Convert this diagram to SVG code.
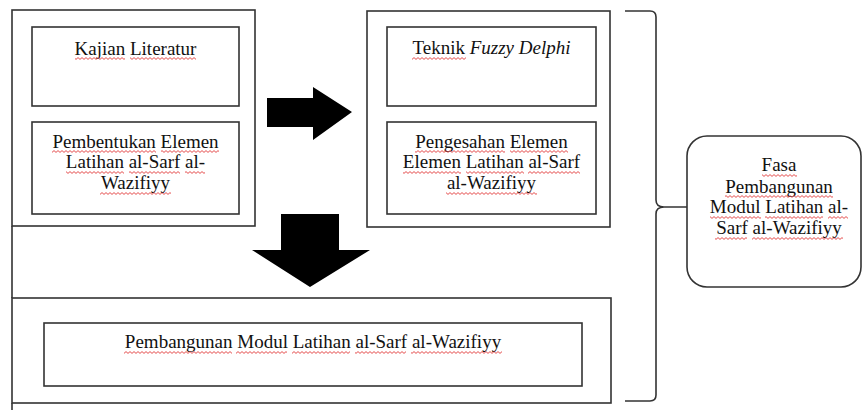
<svg xmlns="http://www.w3.org/2000/svg" width="863" height="410" viewBox="0 0 863 410">
<style>
.box{fill:none;stroke:#333;stroke-width:1.6}
.ln{fill:none;stroke:#333;stroke-width:1.6}
.arrow{fill:#000;stroke:none}
.t{font-size:19px;fill:#111;text-anchor:middle}
.it{font-style:italic}
.sq{fill:url(#wave);stroke:none}
</style>
<defs>
<pattern id="wave" patternUnits="userSpaceOnUse" x="0" y="0" width="4" height="3">
<polyline points="0,2.4 2,0.6 4,2.4" fill="none" stroke="#e23a3a" stroke-width="0.9"/>
</pattern>
</defs>
<rect width="863" height="410" fill="#fff"/>
<g id="connectors">
<polygon class="arrow" points="267,98 313,98 313,87 352,112 313,140 313,127 267,127"/>
<polygon class="arrow" points="281,214 339,214 339,250 370,250 310,287 252,250 281,250"/>
<path class="ln" d="M12,226 V298 M12,403 V410"/>
<path class="ln" d="M625,11 L650,11 Q656,11 656,17 V200 Q656,207 664,207 H687 M664,207 Q656,207 656,214 V395 Q656,401 650,401 L625,401"/>
</g>
<g font-family="Times New Roman, Liberation Serif, Tinos, Noto Serif, DejaVu Serif, FreeSerif, serif">
<g id="group-left">
<rect class="box" x="12" y="10" width="243" height="216"/>
</g>
<g id="kajian">
<rect class="box" x="32" y="27" width="207" height="79"/>
<text class="t" x="135.5" y="55"><tspan>Kajian</tspan> <tspan>Literatur</tspan></text>
<rect class="sq" x="75" y="57" width="50" height="3"/>
<rect class="sq" x="130" y="57" width="66" height="3"/>
</g>
<g id="pembentukan">
<rect class="box" x="32" y="122" width="207" height="92"/>
<text class="t" x="135.5" y="148"><tspan>Pembentukan</tspan> <tspan>Elemen</tspan></text>
<text class="t" x="135.5" y="168"><tspan>Latihan</tspan> <tspan>al-Sarf</tspan> <tspan>al-</tspan></text>
<text class="t" x="135.5" y="189">Wazifiyy</text>
<rect class="sq" x="52" y="150" width="104" height="3"/>
<rect class="sq" x="161" y="150" width="58" height="3"/>
<rect class="sq" x="66" y="171" width="58" height="3"/>
<rect class="sq" x="129" y="171" width="51" height="3"/>
<rect class="sq" x="185" y="171" width="20" height="3"/>
<rect class="sq" x="100" y="192" width="71" height="3"/>
</g>
<g id="group-right">
<rect class="box" x="367" y="11" width="243" height="216"/>
</g>
<g id="teknik">
<rect class="box" x="387" y="27" width="209" height="79"/>
<text class="t" x="491.5" y="54"><tspan>Teknik</tspan> <tspan class="it">Fuzzy Delphi</tspan></text>
<rect class="sq" x="412" y="57" width="54" height="3"/>
</g>
<g id="pengesahan">
<rect class="box" x="387" y="122" width="209" height="92"/>
<text class="t" x="491.5" y="148"><tspan>Pengesahan</tspan> <tspan>Elemen</tspan></text>
<text class="t" x="491.5" y="168"><tspan>Elemen</tspan> <tspan>Latihan</tspan> <tspan>al-Sarf</tspan></text>
<text class="t" x="491.5" y="189">al-Wazifiyy</text>
<rect class="sq" x="415" y="150" width="90" height="3"/>
<rect class="sq" x="510" y="150" width="58" height="3"/>
<rect class="sq" x="403" y="171" width="58" height="3"/>
<rect class="sq" x="466" y="171" width="58" height="3"/>
<rect class="sq" x="528" y="171" width="52" height="3"/>
<rect class="sq" x="446" y="192" width="91" height="3"/>
</g>
<g id="group-bottom">
<rect class="box" x="12" y="298" width="599" height="105"/>
</g>
<g id="pembangunan">
<rect class="box" x="44" y="323" width="538" height="63"/>
<text class="t" x="313" y="348"><tspan>Pembangunan</tspan> <tspan>Modul</tspan> <tspan>Latihan</tspan> <tspan>al-Sarf</tspan> <tspan>al-Wazifiyy</tspan></text>
<rect class="sq" x="124" y="351" width="108" height="3"/>
<rect class="sq" x="236" y="351" width="51" height="3"/>
<rect class="sq" x="292" y="351" width="58" height="3"/>
<rect class="sq" x="355" y="351" width="51" height="3"/>
<rect class="sq" x="411" y="351" width="91" height="3"/>
</g>
<g id="fasa">
<rect class="box" x="687" y="136" width="174" height="151" rx="20" ry="20"/>
<text class="t" x="779" y="171">Fasa</text>
<text class="t" x="779" y="193">Pembangunan</text>
<text class="t" x="779" y="213"><tspan>Modul</tspan> <tspan>Latihan</tspan> <tspan>al-</tspan></text>
<text class="t" x="779" y="234"><tspan>Sarf</tspan> <tspan>al-Wazifiyy</tspan></text>
<rect class="sq" x="762" y="174" width="35" height="3"/>
<rect class="sq" x="725" y="195" width="108" height="3"/>
<rect class="sq" x="710" y="216" width="51" height="3"/>
<rect class="sq" x="765" y="216" width="58" height="3"/>
<rect class="sq" x="828" y="216" width="20" height="3"/>
<rect class="sq" x="715" y="237" width="32" height="3"/>
<rect class="sq" x="752" y="237" width="91" height="3"/>
</g>
</g>
</svg>
